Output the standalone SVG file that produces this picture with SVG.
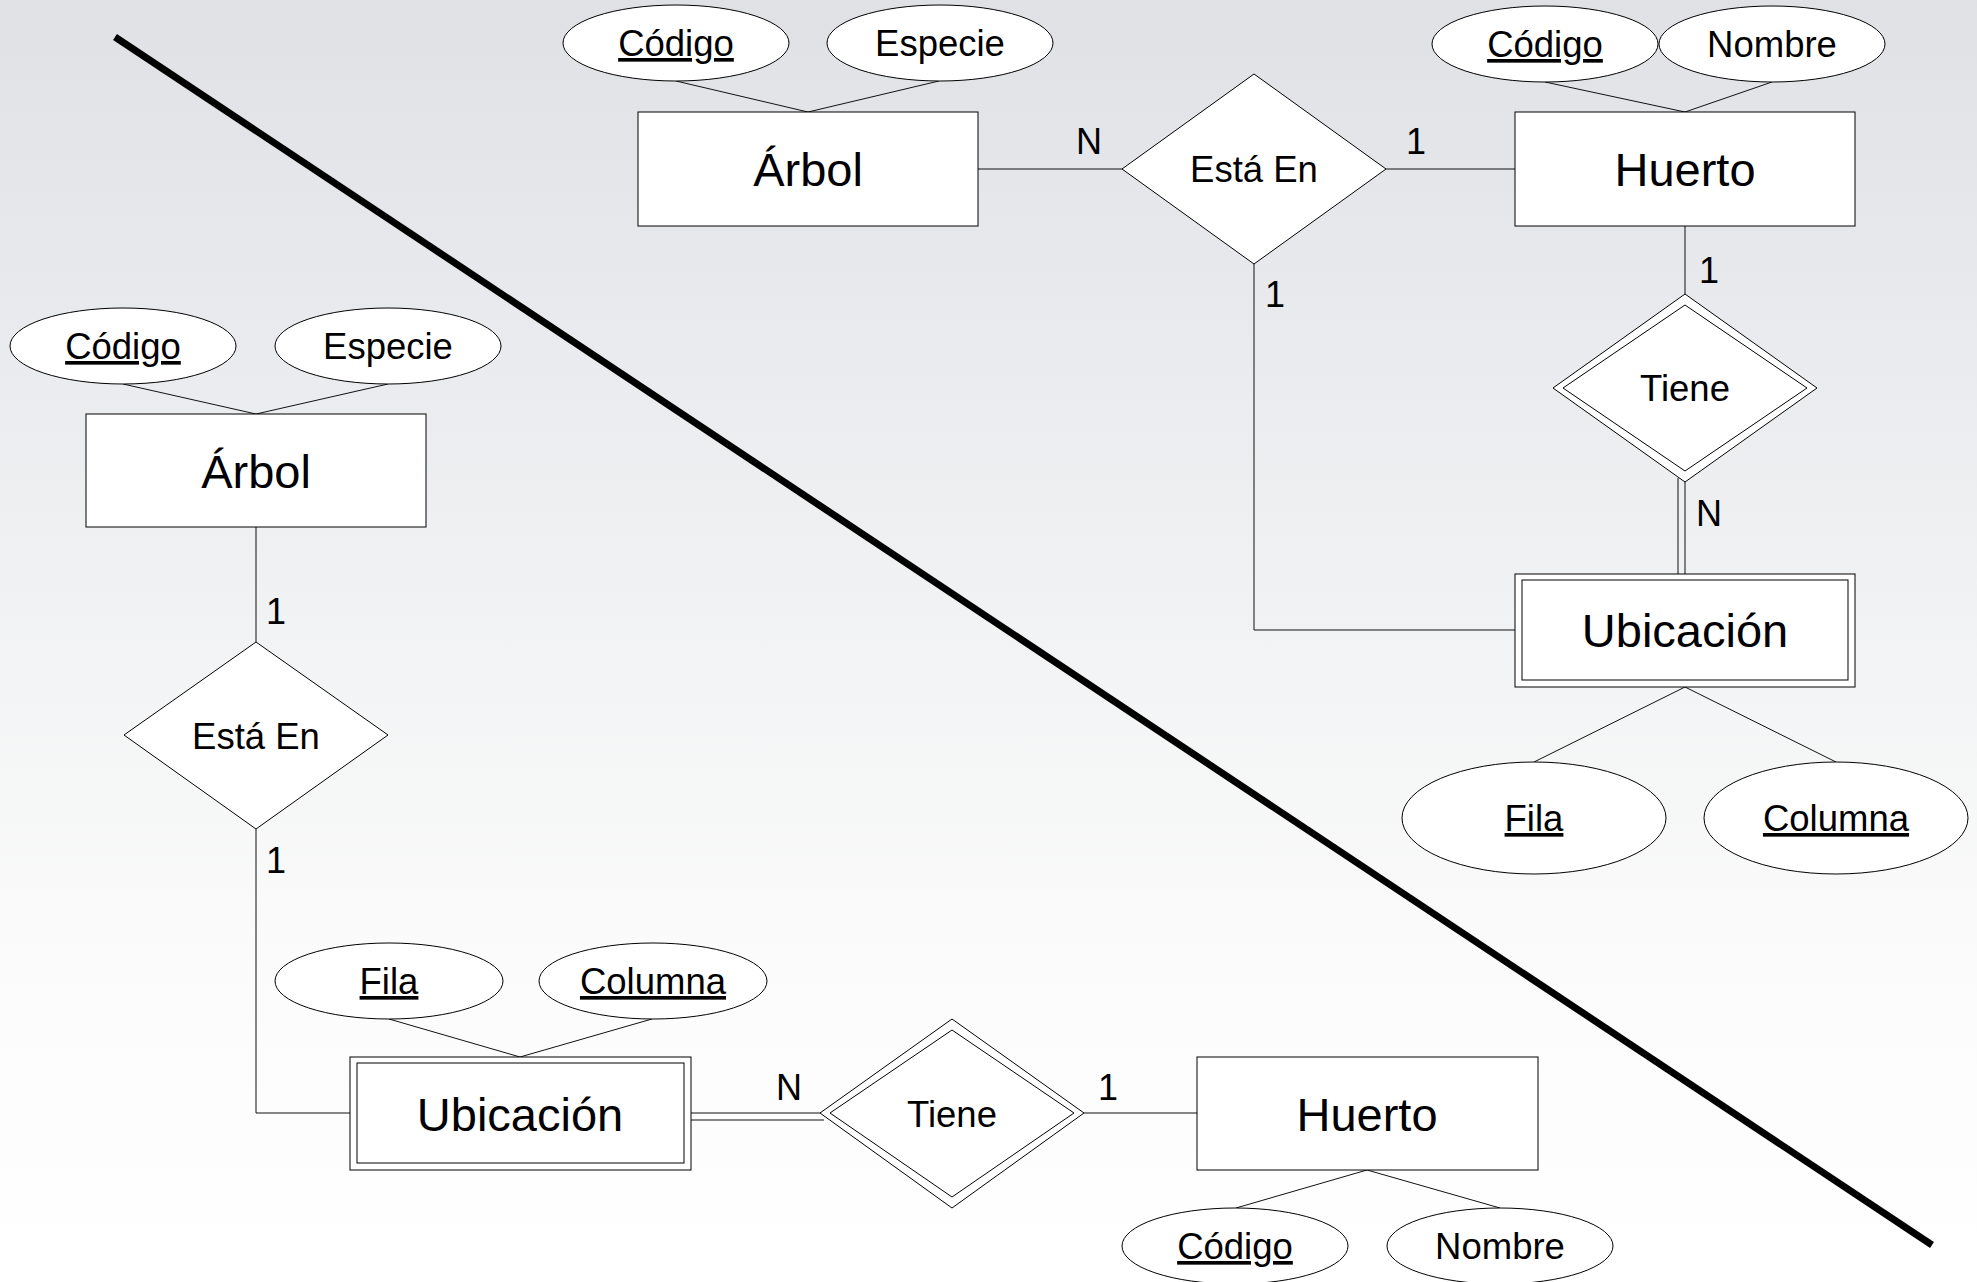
<svg xmlns="http://www.w3.org/2000/svg" width="1977" height="1282" viewBox="0 0 1977 1282">
  <defs>
    <linearGradient id="bg" x1="0" y1="0" x2="0" y2="1">
      <stop offset="0" stop-color="#dfe1e5"/>
      <stop offset="0.25" stop-color="#e9eaed"/>
      <stop offset="0.5" stop-color="#f2f3f4"/>
      <stop offset="0.75" stop-color="#fbfbfb"/>
      <stop offset="1" stop-color="#ffffff"/>
    </linearGradient>
    <style>
      .shape { fill: #ffffff; stroke: #000000; stroke-width: 1; }
      .edge { fill: none; stroke: #111111; stroke-width: 1; }
      text { font-family: "Liberation Sans", Arial, sans-serif; fill: #000000; }
      .ent { font-size: 47px; text-anchor: middle; }
      .lbl { font-size: 36.5px; text-anchor: middle; }
      .key { text-decoration: underline; }
      .card { font-size: 36px; text-anchor: middle; }
    </style>
  </defs>

  <rect x="0" y="0" width="1977" height="1282" fill="url(#bg)"/>

  <!-- dividing stroke between the two versions of the model -->
  <line x1="115" y1="37" x2="1932" y2="1245" stroke="#000" stroke-width="7"/>

  <!-- connectors -->
  <g id="connectors">
    <!-- upper model -->
    <line class="edge" x1="676" y1="81" x2="808" y2="112"/>
    <line class="edge" x1="939" y1="81" x2="808" y2="112"/>
    <line class="edge" x1="978" y1="169" x2="1122" y2="169"/>
    <line class="edge" x1="1386" y1="169" x2="1515" y2="169"/>
    <line class="edge" x1="1545" y1="82" x2="1685" y2="112"/>
    <line class="edge" x1="1772" y1="82" x2="1685" y2="112"/>
    <line class="edge" x1="1685" y1="226" x2="1685" y2="294"/>
    <line class="edge" x1="1685" y1="482" x2="1685" y2="574"/>
    <line class="edge" x1="1678" y1="478" x2="1678" y2="574"/>
    <polyline class="edge" points="1254,264 1254,630 1515,630"/>
    <line class="edge" x1="1685" y1="687" x2="1534" y2="762"/>
    <line class="edge" x1="1685" y1="687" x2="1836" y2="762"/>
    <!-- lower model -->
    <line class="edge" x1="123" y1="384" x2="256" y2="414"/>
    <line class="edge" x1="388" y1="384" x2="256" y2="414"/>
    <line class="edge" x1="256" y1="527" x2="256" y2="642"/>
    <polyline class="edge" points="256,829 256,1113 350,1113"/>
    <line class="edge" x1="389" y1="1019" x2="520" y2="1057"/>
    <line class="edge" x1="652" y1="1019" x2="520" y2="1057"/>
    <line class="edge" x1="691" y1="1113" x2="820" y2="1113"/>
    <line class="edge" x1="691" y1="1120" x2="824" y2="1120"/>
    <line class="edge" x1="1084" y1="1113" x2="1197" y2="1113"/>
    <line class="edge" x1="1367" y1="1170" x2="1236" y2="1208"/>
    <line class="edge" x1="1367" y1="1170" x2="1500" y2="1208"/>
  </g>

  <!-- cardinalities -->
  <g id="cardinalities">
    <text class="card" x="1089" y="154">N</text>
    <text class="card" x="1416" y="154">1</text>
    <text class="card" x="1275" y="307">1</text>
    <text class="card" x="1709" y="283">1</text>
    <text class="card" x="1709" y="526">N</text>
    <text class="card" x="276" y="624">1</text>
    <text class="card" x="276" y="873">1</text>
    <text class="card" x="789" y="1100">N</text>
    <text class="card" x="1108" y="1100">1</text>
  </g>

  <!-- upper model -->
  <g id="a1-codigo">
    <ellipse class="shape" cx="676" cy="43" rx="113" ry="38"/>
    <text class="lbl key" x="676" y="56">Código</text>
  </g>
  <g id="a1-especie">
    <ellipse class="shape" cx="940" cy="43" rx="113" ry="38"/>
    <text class="lbl" x="940" y="56">Especie</text>
  </g>
  <g id="e1-arbol">
    <rect class="shape" x="638" y="112" width="340" height="114"/>
    <text class="ent" x="808" y="186">Árbol</text>
  </g>
  <g id="r1-esta-en">
    <polygon class="shape" points="1254,74 1386,169 1254,264 1122,169"/>
    <text class="lbl" x="1254" y="182">Está En</text>
  </g>
  <g id="a1-huerto-codigo">
    <ellipse class="shape" cx="1545" cy="44" rx="113" ry="38"/>
    <text class="lbl key" x="1545" y="57">Código</text>
  </g>
  <g id="a1-huerto-nombre">
    <ellipse class="shape" cx="1772" cy="44" rx="113" ry="38"/>
    <text class="lbl" x="1772" y="57">Nombre</text>
  </g>
  <g id="e1-huerto">
    <rect class="shape" x="1515" y="112" width="340" height="114"/>
    <text class="ent" x="1685" y="186">Huerto</text>
  </g>
  <g id="r1-tiene">
    <polygon class="shape" points="1685,294 1817,388 1685,482 1553,388"/>
    <polygon class="shape" points="1685,305 1807,388 1685,471 1563,388"/>
    <text class="lbl" x="1685" y="401">Tiene</text>
  </g>
  <g id="e1-ubicacion">
    <rect class="shape" x="1515" y="574" width="340" height="113"/>
    <rect class="shape" x="1522" y="580" width="326" height="100"/>
    <text class="ent" x="1685" y="647">Ubicación</text>
  </g>
  <g id="a1-fila">
    <ellipse class="shape" cx="1534" cy="818" rx="132" ry="56"/>
    <text class="lbl key" x="1534" y="831">Fila</text>
  </g>
  <g id="a1-columna">
    <ellipse class="shape" cx="1836" cy="818" rx="132" ry="56"/>
    <text class="lbl key" x="1836" y="831">Columna</text>
  </g>

  <!-- lower model -->
  <g id="a2-codigo">
    <ellipse class="shape" cx="123" cy="346" rx="113" ry="38"/>
    <text class="lbl key" x="123" y="359">Código</text>
  </g>
  <g id="a2-especie">
    <ellipse class="shape" cx="388" cy="346" rx="113" ry="38"/>
    <text class="lbl" x="388" y="359">Especie</text>
  </g>
  <g id="e2-arbol">
    <rect class="shape" x="86" y="414" width="340" height="113"/>
    <text class="ent" x="256" y="488">Árbol</text>
  </g>
  <g id="r2-esta-en">
    <polygon class="shape" points="256,642 388,735 256,829 124,735"/>
    <text class="lbl" x="256" y="749">Está En</text>
  </g>
  <g id="a2-fila">
    <ellipse class="shape" cx="389" cy="981" rx="114" ry="38"/>
    <text class="lbl key" x="389" y="994">Fila</text>
  </g>
  <g id="a2-columna">
    <ellipse class="shape" cx="653" cy="981" rx="114" ry="38"/>
    <text class="lbl key" x="653" y="994">Columna</text>
  </g>
  <g id="e2-ubicacion">
    <rect class="shape" x="350" y="1057" width="341" height="113"/>
    <rect class="shape" x="357" y="1063" width="327" height="100"/>
    <text class="ent" x="520" y="1131">Ubicación</text>
  </g>
  <g id="r2-tiene">
    <polygon class="shape" points="952,1019 1084,1113 952,1208 820,1113"/>
    <polygon class="shape" points="952,1030 1074,1113 952,1197 830,1113"/>
    <text class="lbl" x="952" y="1127">Tiene</text>
  </g>
  <g id="e2-huerto">
    <rect class="shape" x="1197" y="1057" width="341" height="113"/>
    <text class="ent" x="1367" y="1131">Huerto</text>
  </g>
  <g id="a2-huerto-codigo">
    <ellipse class="shape" cx="1235" cy="1246" rx="113" ry="38"/>
    <text class="lbl key" x="1235" y="1259">Código</text>
  </g>
  <g id="a2-huerto-nombre">
    <ellipse class="shape" cx="1500" cy="1246" rx="113" ry="38"/>
    <text class="lbl" x="1500" y="1259">Nombre</text>
  </g>
</svg>
